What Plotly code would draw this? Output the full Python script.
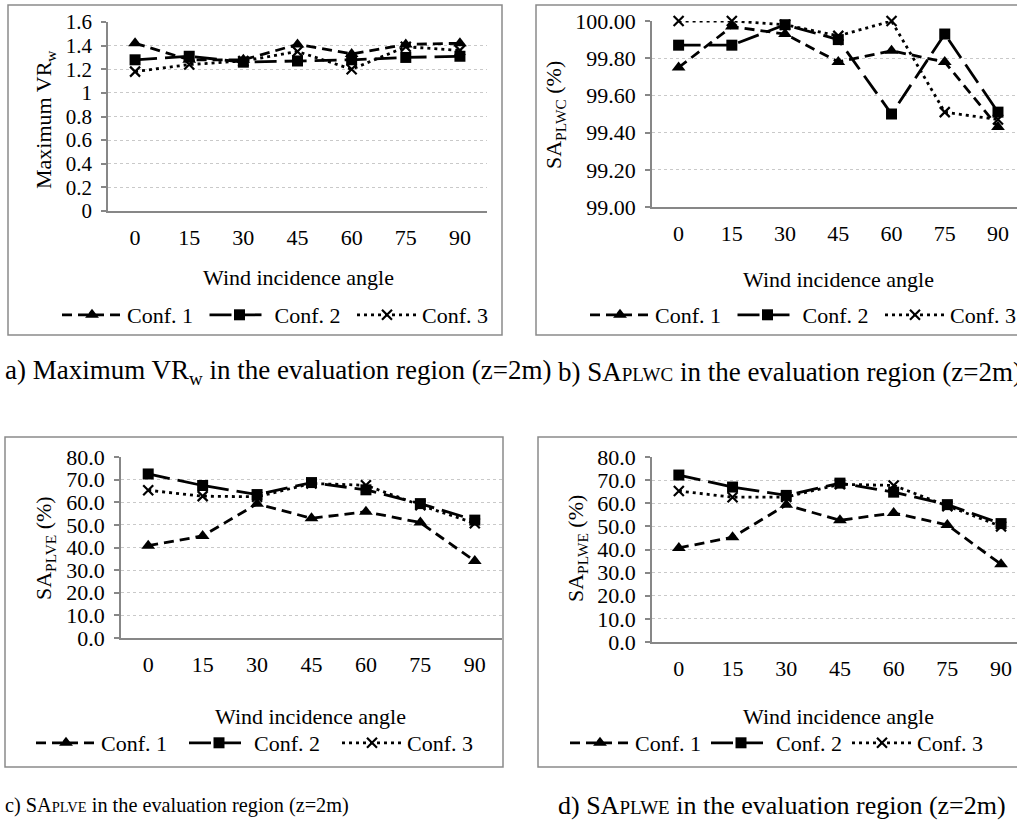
import plotly.graph_objects as go

W, H = 1017, 822
FONT = "Liberation Serif, Times New Roman, serif"

angles = ["0", "15", "30", "45", "60", "75", "90"]
conf_names = ["Conf. 1", "Conf. 2", "Conf. 3"]

# a) Maximum VRw
vr_conf1 = [1.42, 1.28, 1.28, 1.41, 1.33, 1.41, 1.42]
vr_conf2 = [1.28, 1.31, 1.26, 1.27, 1.28, 1.30, 1.31]
vr_conf3 = [1.18, 1.24, 1.27, 1.35, 1.20, 1.39, 1.36]

# b) SA_PLWC (%)
plwc_conf1 = [99.75, 99.97, 99.93, 99.78, 99.84, 99.78, 99.43]
plwc_conf2 = [99.87, 99.87, 99.98, 99.90, 99.50, 99.93, 99.51]
plwc_conf3 = [100.00, 100.00, 99.98, 99.92, 100.00, 99.51, 99.47]

# c) SA_PLVE (%)
plve_conf1 = [40.8, 45.1, 59.3, 52.9, 55.8, 51.0, 34.0]
plve_conf2 = [72.5, 67.4, 63.4, 68.7, 65.5, 59.4, 52.1]
plve_conf3 = [65.3, 62.7, 62.4, 68.3, 67.5, 58.7, 50.7]

# d) SA_PLWE (%)
plwe_conf1 = [40.7, 45.3, 59.3, 52.6, 55.8, 50.6, 33.6]
plwe_conf2 = [72.2, 67.0, 63.4, 68.7, 64.8, 59.4, 51.2]
plwe_conf3 = [65.3, 62.6, 62.7, 68.2, 67.7, 58.7, 50.0]


def px(x):
    return x / W


def py(y):
    return 1 - y / H


def font(size):
    return dict(family=FONT, size=size, color="black")


styles = [
    dict(dash="10px,6px", symbol="triangle-up", size=12, mline=0),
    dict(dash="22px,8px", symbol="square", size=11, mline=0),
    dict(dash="3px,4px", symbol="x-thin", size=10, mline=2.2),
]

panels = [
    dict(series=[vr_conf1, vr_conf2, vr_conf3], xdom=(108, 487), ydom=(22, 211),
         yrange=[0, 1.6], dtick=0.2, fmt="", xend=6.5, tick_fs=21,
         frame=(8, 5, 502, 335), ytitle="Maximum VR<sub>w</sub>", ytx=45, yty=120,
         xtitle_x=298, xtitle_y=278, leg_x=57, leg_y=315, entry=72.5),
    dict(series=[plwc_conf1, plwc_conf2, plwc_conf3], xdom=(652, 1017), ydom=(21, 207),
         yrange=[99, 100], dtick=0.2, fmt=".2f", xend=-0.5 + (1017 - 652.4) / 53.17, tick_fs=22,
         frame=(536, 5, 1030, 335), ytitle="SA<sub>PLWC</sub> (%)", ytx=555, yty=115,
         xtitle_x=838, xtitle_y=279, leg_x=585, leg_y=315, entry=72.5),
    dict(series=[plve_conf1, plve_conf2, plve_conf3], xdom=(121, 502), ydom=(457, 638),
         yrange=[0, 80], dtick=10, fmt=".1f", xend=6.5, tick_fs=22,
         frame=(5, 437, 503, 767), ytitle="SA<sub>PLVE</sub> (%)", ytx=45, yty=548,
         xtitle_x=310, xtitle_y=716, leg_x=31, leg_y=743, entry=78),
    dict(series=[plwe_conf1, plwe_conf2, plwe_conf3], xdom=(652, 1017), ydom=(457, 642),
         yrange=[0, 80], dtick=10, fmt=".1f", xend=-0.5 + (1017 - 652.2) / 53.67, tick_fs=22,
         frame=(538, 437, 1030, 767), ytitle="SA<sub>PLWE</sub> (%)", ytx=577, yty=549,
         xtitle_x=838, xtitle_y=716, leg_x=565, leg_y=743, entry=None),
]

fig = go.Figure()
layout = dict(
    width=W, height=H, margin=dict(l=0, r=0, t=0, b=0, autoexpand=False),
    paper_bgcolor="white", plot_bgcolor="white",
    font=font(22),
)
shapes = []
annotations = []

for i, p in enumerate(panels):
    n = "" if i == 0 else str(i + 1)
    xa, ya = "x" + n, "y" + n
    leg = "legend" + n
    for k in range(3):
        st = styles[k]
        fig.add_trace(go.Scatter(
            x=angles, y=p["series"][k], name=conf_names[k],
            xaxis=xa, yaxis=ya, legend=leg, mode="lines+markers",
            line=dict(color="black", width=2.8, dash=st["dash"]),
            marker=dict(symbol=st["symbol"], size=st["size"], color="black",
                        line=dict(color="black", width=st["mline"])),
            cliponaxis=False,
        ))
    layout["xaxis" + n] = dict(
        domain=[px(p["xdom"][0]), px(p["xdom"][1])], anchor=ya,
        type="category", range=[-0.5, p["xend"]],
        showline=True, linecolor="#878787", linewidth=1.5,
        showgrid=False, ticks="", tickfont=font(22),
        ticklabelstandoff=6, zeroline=False,
    )
    layout["yaxis" + n] = dict(
        domain=[py(p["ydom"][1]), py(p["ydom"][0])], anchor=xa,
        range=p["yrange"], dtick=p["dtick"], tickformat=p["fmt"],
        showline=True, linecolor="#878787", linewidth=1.5,
        showgrid=True, gridcolor="#c9c9c9", griddash="dot", gridwidth=1,
        ticks="outside", ticklen=5, tickcolor="#878787", tickwidth=1.5,
        tickfont=font(p["tick_fs"]), ticklabelstandoff=5, zeroline=False,
    )
    legend = dict(
        x=px(p["leg_x"]), y=py(p["leg_y"]), xanchor="left", yanchor="middle",
        orientation="h", font=font(22),
        bgcolor="rgba(0,0,0,0)", itemwidth=60,
    )
    if p["entry"]:
        legend.update(entrywidth=p["entry"], entrywidthmode="pixels")
    layout[leg] = legend
    fx0, fy0, fx1, fy1 = p["frame"]
    shapes.append(dict(type="rect", xref="paper", yref="paper",
                       x0=px(fx0), x1=px(fx1), y0=py(fy1), y1=py(fy0),
                       line=dict(color="#8a8a8a", width=1.5), layer="below"))
    annotations.append(dict(text=p["ytitle"], xref="paper", yref="paper",
                            x=px(p["ytx"]), y=py(p["yty"]), textangle=-90,
                            xanchor="center", yanchor="middle",
                            showarrow=False, font=font(22)))
    annotations.append(dict(text="Wind incidence angle", xref="paper", yref="paper",
                            x=px(p["xtitle_x"]), y=py(p["xtitle_y"]),
                            xanchor="center", yanchor="middle",
                            showarrow=False, font=font(22)))

small = 'style="font-size:{}px"'
captions = [
    ("a) Maximum VR<sub>w</sub> in the evaluation region (z=2m)", 3, 372, 27),
    ("b) SA<span %s>PLWC</span> in the evaluation region (z=2m)" % small.format(19), 556, 372, 27),
    ("c) SA<span %s>PLVE</span> in the evaluation region (z=2m)" % small.format(14.5), 3, 805, 20.3),
    ("d) SA<span %s>PLWE</span> in the evaluation region (z=2m)" % small.format(19), 556, 805, 26),
]
for text, cx, cy, fs in captions:
    annotations.append(dict(text=text, xref="paper", yref="paper", x=px(cx), y=py(cy),
                            xanchor="left", yanchor="middle", showarrow=False,
                            font=font(fs)))

layout["shapes"] = shapes
layout["annotations"] = annotations
fig.update_layout(**layout)
fig.write_html("out.html")
